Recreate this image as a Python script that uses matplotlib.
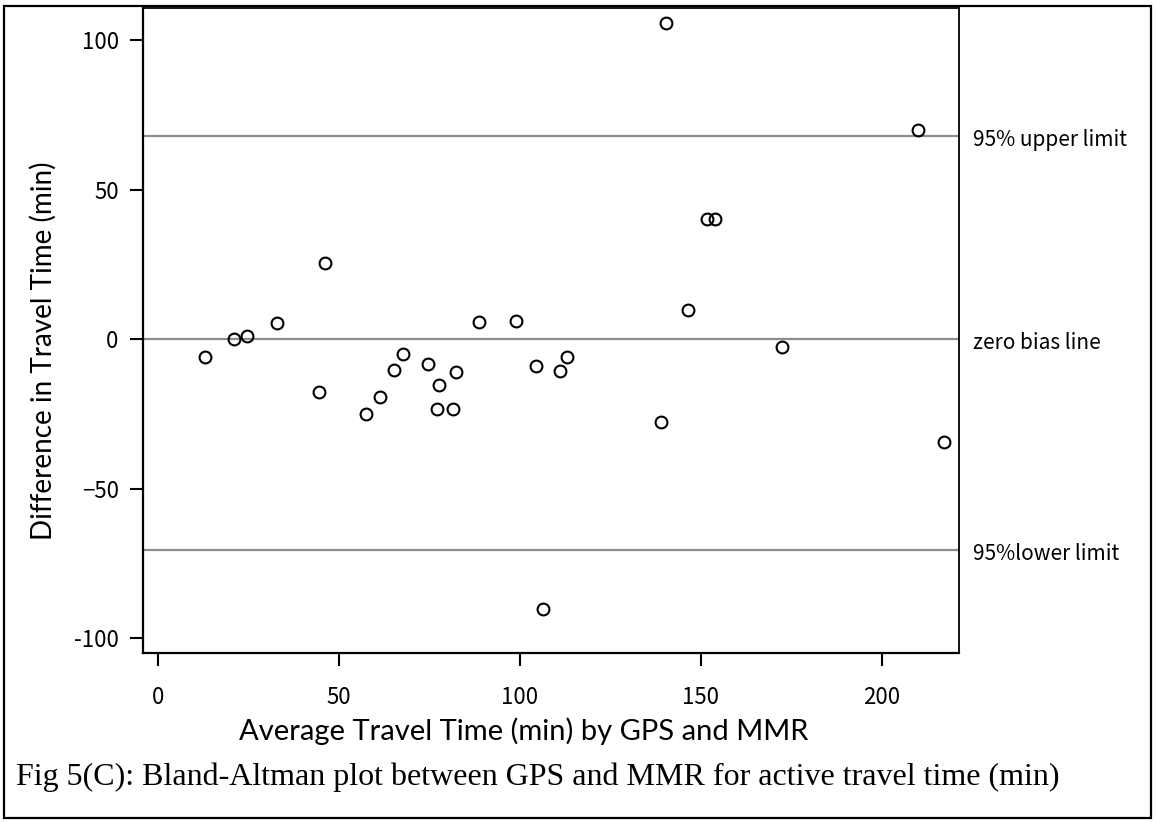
"""Bland-Altman plot: GPS vs MMR active travel time"""

from matplotlib import pyplot as plt
from matplotlib.patches import Rectangle
from matplotlib.transforms import blended_transform_factory

# average of the two methods (min)
srednia = [13.0, 21.0, 24.6, 32.8, 44.5, 46.3, 57.6, 61.3, 65.3, 67.6,
           74.7, 77.7, 77.0, 81.6, 82.3, 88.6, 98.8, 104.4, 106.3, 111.0,
           113.1, 139.1, 140.3, 146.5, 151.7, 153.8, 172.5, 210.0, 217.2]
# difference between the two methods (min)
roznica = [-5.9, -0.1, 0.9, 5.2, -17.8, 25.4, -25.2, -19.4, -10.4, -5.0,
           -8.5, -15.4, -23.3, -23.3, -10.9, 5.6, 5.9, -8.9, -90.3, -10.8,
           -6.1, -27.9, 105.6, 9.7, 40.0, 40.0, -2.6, 70.0, -34.3]

# reference lines and their labels
linie = [67.8, 0.0, -70.4]
opisy_linii = ["95% upper limit", "zero bias line", "95%lower limit"]

x_ticki = [0, 50, 100, 150, 200]
y_ticki = [-100, -50, 0, 50, 100]
y_opisy = ["-100", "\u221250", "0", "50", "100"]

font_jp = ["Noto Sans CJK JP", "DejaVu Sans"]

fig = plt.figure(figsize=(11.56, 8.22), dpi=100, facecolor="white")
ax = fig.add_axes([143/1156, 1 - 653/822, 816/1156, 645/822])

ax.plot(srednia, roznica, "o", markersize=8.5, markerfacecolor="none",
        markeredgecolor="black", markeredgewidth=1.5, zorder=3)

for poziom in linie:
    ax.axhline(poziom, color="#8c8c8c", linewidth=1.6, zorder=2)

# opisy linii po prawej stronie wykresu
tr = blended_transform_factory(ax.transAxes, ax.transData)
for poziom, opis in zip(linie, opisy_linii):
    ax.text(1.017, poziom - 1.4, opis, transform=tr, ha="left", va="center",
            fontsize=15, family=font_jp)

ax.set_xlim(-4.1, 221.3)
ax.set_ylim(-105.0, 110.7)
ax.set_xticks(x_ticki)
ax.set_xticklabels([str(v) for v in x_ticki], family=font_jp, fontsize=16)
ax.set_yticks(y_ticki)
ax.set_yticklabels(y_opisy, family=font_jp, fontsize=16)
ax.tick_params(axis="both", direction="out", length=9.5, width=1.5, color="black")
ax.tick_params(axis="y", pad=8)
ax.tick_params(axis="x", pad=14)

for strona in ["left", "bottom"]:
    ax.spines[strona].set_linewidth(1.6)
for strona in ["top", "right"]:
    ax.spines[strona].set_linewidth(1.3)

ax.set_xlabel("Average Travel Time (min) by GPS and MMR", family="Lato", fontsize=21)
ax.xaxis.set_label_coords(0.467, -0.121)
ax.xaxis.label.set_va("center")
ax.set_ylabel("Difference in Travel Time (min)", family="Lato", fontsize=20)
ax.yaxis.set_label_coords(-0.1225, 0.468)
ax.yaxis.label.set_va("center")

fig.text(16/1156, 1 - 777/822,
         "Fig 5(C): Bland-Altman plot between GPS and MMR for active travel time (min)",
         family="Liberation Serif", fontsize=23, ha="left", va="center")

# ramka wokol calej ryciny
fig.patches.append(Rectangle((4/1156, 4/822), 1147/1156, 812/822,
                             transform=fig.transFigure, fill=False,
                             edgecolor="black", linewidth=1.6))

fig.savefig("out.png", dpi=100, facecolor="white")
